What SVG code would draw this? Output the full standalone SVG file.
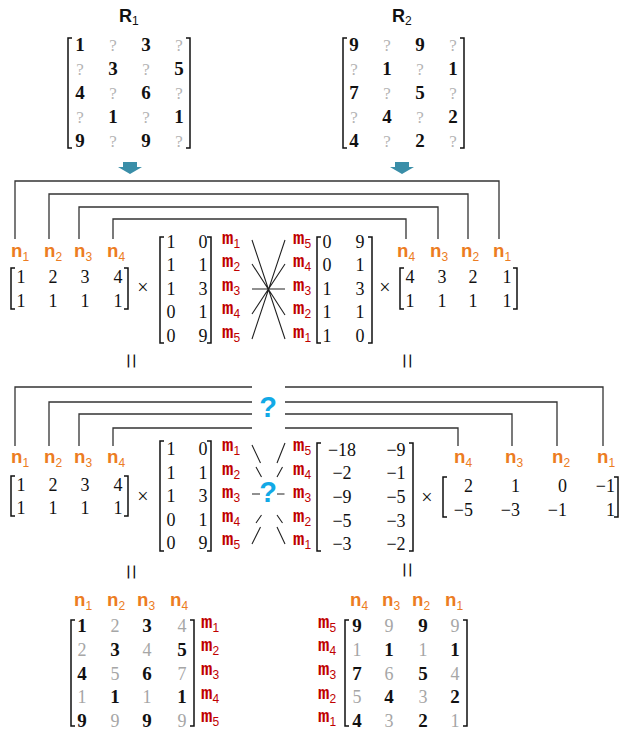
<svg xmlns="http://www.w3.org/2000/svg" width="621" height="730" viewBox="0 0 621 730">
  <style>
    .lbl { font-family: "Liberation Sans", Arial, sans-serif; font-weight: bold; font-size: 18px; fill: #111; }
    .nl { font-family: "Liberation Mono", "DejaVu Sans Mono", monospace; font-weight: bold; font-size: 19px; fill: #ec7c22; }
    .ml { font-family: "Liberation Mono", "DejaVu Sans Mono", monospace; font-weight: bold; font-size: 19px; fill: #c00000; }
    .sub { font-family: "Liberation Sans", Arial, sans-serif; font-weight: normal; font-size: 12px; }
    .mx { font-family: "Liberation Serif", "DejaVu Serif", serif; font-size: 18px; fill: #111; text-anchor: middle; }
    .mxr { font-family: "Liberation Serif", "DejaVu Serif", serif; font-size: 18px; fill: #111; text-anchor: end; }
    .bd { font-family: "Liberation Serif", "DejaVu Serif", serif; font-weight: bold; font-size: 19px; fill: #111; text-anchor: middle; }
    .gr { font-family: "Liberation Serif", "DejaVu Serif", serif; font-size: 18px; fill: #a6a6a6; text-anchor: middle; }
    .q { font-family: "Liberation Serif", "DejaVu Serif", serif; font-size: 17px; fill: #b4b4b4; text-anchor: middle; }
    .op { font-family: "Liberation Serif", "DejaVu Serif", serif; font-size: 20px; fill: #111; text-anchor: middle; }
    .eq { font-family: "Liberation Serif", "DejaVu Serif", serif; font-size: 28px; fill: #111; text-anchor: middle; }
    .bq { font-family: "Liberation Sans", Arial, sans-serif; font-weight: bold; font-size: 29px; fill: #12a9e6; text-anchor: middle; }
    .br { fill: none; stroke: #111; stroke-width: 1.5; }
    .wire { fill: none; stroke: #333; stroke-width: 1.3; }
    .cross { fill: none; stroke: #222; stroke-width: 1.1; }
    .arrow { fill: #3a8ea8; }
  </style>

  <!-- ===== Top: R1 ===== -->
  <g id="R1">
    <text class="lbl" x="119" y="22">R<tspan class="sub" dy="3">1</tspan></text>
    <path class="br" d="M72,38 H68 V148 H72 M186,38 H190 V148 H186"/>
    <text class="bd" x="80" y="51">1</text><text class="q" x="113" y="51">?</text><text class="bd" x="146" y="51">3</text><text class="q" x="179" y="51">?</text>
    <text class="q" x="80" y="75">?</text><text class="bd" x="113" y="75">3</text><text class="q" x="146" y="75">?</text><text class="bd" x="179" y="75">5</text>
    <text class="bd" x="80" y="99">4</text><text class="q" x="113" y="99">?</text><text class="bd" x="146" y="99">6</text><text class="q" x="179" y="99">?</text>
    <text class="q" x="80" y="123">?</text><text class="bd" x="113" y="123">1</text><text class="q" x="146" y="123">?</text><text class="bd" x="179" y="123">1</text>
    <text class="bd" x="80" y="147">9</text><text class="q" x="113" y="147">?</text><text class="bd" x="146" y="147">9</text><text class="q" x="179" y="147">?</text>
    <path class="arrow" d="M123,162 H137 V167 H142 L130,174 L118,167 H123 Z"/>
  </g>

  <!-- ===== Top: R2 ===== -->
  <g id="R2">
    <text class="lbl" x="392" y="22">R<tspan class="sub" dy="3">2</tspan></text>
    <path class="br" d="M347,38 H343 V148 H347 M460,38 H464 V148 H460"/>
    <text class="bd" x="354" y="51">9</text><text class="q" x="387" y="51">?</text><text class="bd" x="420" y="51">9</text><text class="q" x="453" y="51">?</text>
    <text class="q" x="354" y="75">?</text><text class="bd" x="387" y="75">1</text><text class="q" x="420" y="75">?</text><text class="bd" x="453" y="75">1</text>
    <text class="bd" x="354" y="99">7</text><text class="q" x="387" y="99">?</text><text class="bd" x="420" y="99">5</text><text class="q" x="453" y="99">?</text>
    <text class="q" x="354" y="123">?</text><text class="bd" x="387" y="123">4</text><text class="q" x="420" y="123">?</text><text class="bd" x="453" y="123">2</text>
    <text class="bd" x="354" y="147">4</text><text class="q" x="387" y="147">?</text><text class="bd" x="420" y="147">2</text><text class="q" x="453" y="147">?</text>
    <path class="arrow" d="M395,162 H409 V167 H414 L402,174 L390,167 H395 Z"/>
  </g>

  <!-- ===== Connectors ===== -->
  <g id="connectors">
    <!-- upper factorisation: nested brackets pairing n columns -->
    <path class="wire" d="M15,239 V181 H499 V239"/>
    <path class="wire" d="M49,239 V194 H468 V239"/>
    <path class="wire" d="M79,239 V207 H438 V239"/>
    <path class="wire" d="M113,239 V219 H406 V239"/>
    <!-- upper row permutation -->
    <path class="cross" d="M252,240 L285,339 M252,264 L285,315 M252,289 H285 M252,314 L285,264 M252,339 L285,240"/>
    <!-- lower factorisation: brackets broken by the unknown -->
    <path class="wire" d="M15,446 V387 H252 M285,387 H603 V446"/>
    <path class="wire" d="M49,446 V402 H252 M285,402 H557 V446"/>
    <path class="wire" d="M79,446 V414 H252 M285,414 H512 V446"/>
    <path class="wire" d="M113,446 V428 H252 M285,428 H458 V446"/>
    <!-- lower row permutation, broken -->
    <path class="cross" d="M252,445 L260.5,463 M256,467 L261.5,477 M252,494 H260 M256,523 L261.5,515 M252,544 L260.5,527 M285,443 L277,463 M282.5,467 L277,477 M277,494 H284.5 M282.5,523 L277,515 M285,544 L277,527"/>
  </g>

  <!-- ===== Upper equation ===== -->
  <g id="nTopLeft">
    <text class="nl" x="11" y="257">n<tspan class="sub" dy="4">1</tspan></text>
    <text class="nl" x="44" y="257">n<tspan class="sub" dy="4">2</tspan></text>
    <text class="nl" x="74" y="257">n<tspan class="sub" dy="4">3</tspan></text>
    <text class="nl" x="107" y="257">n<tspan class="sub" dy="4">4</tspan></text>
  </g>
  <g id="A1">
    <path class="br" d="M15,268 H11 V309 H15 M124,268 H128 V309 H124"/>
    <text class="mx" x="21" y="283">1</text><text class="mx" x="53" y="283">2</text><text class="mx" x="85" y="283">3</text><text class="mx" x="118" y="283">4</text>
    <text class="mx" x="21" y="307">1</text><text class="mx" x="53" y="307">1</text><text class="mx" x="85" y="307">1</text><text class="mx" x="118" y="307">1</text>
  </g>
  <text class="op" x="143" y="294">×</text>
  <g id="B1">
    <path class="br" d="M164,237 H160 V343 H164 M207,237 H211 V343 H207"/>
    <text class="mx" x="171" y="248">1</text><text class="mx" x="203" y="248">0</text>
    <text class="mx" x="171" y="271">1</text><text class="mx" x="203" y="271">1</text>
    <text class="mx" x="171" y="295">1</text><text class="mx" x="203" y="295">3</text>
    <text class="mx" x="171" y="318">0</text><text class="mx" x="203" y="318">1</text>
    <text class="mx" x="171" y="342">0</text><text class="mx" x="203" y="342">9</text>
  </g>
  <g id="mTopLeft">
    <text class="ml" x="222" y="244">m<tspan class="sub" dy="4">1</tspan></text>
    <text class="ml" x="222" y="267">m<tspan class="sub" dy="4">2</tspan></text>
    <text class="ml" x="222" y="291">m<tspan class="sub" dy="4">3</tspan></text>
    <text class="ml" x="222" y="314">m<tspan class="sub" dy="4">4</tspan></text>
    <text class="ml" x="222" y="338">m<tspan class="sub" dy="4">5</tspan></text>
  </g>
  <g id="mTopRight">
    <text class="ml" x="293" y="244">m<tspan class="sub" dy="4">5</tspan></text>
    <text class="ml" x="293" y="267">m<tspan class="sub" dy="4">4</tspan></text>
    <text class="ml" x="293" y="291">m<tspan class="sub" dy="4">3</tspan></text>
    <text class="ml" x="293" y="314">m<tspan class="sub" dy="4">2</tspan></text>
    <text class="ml" x="293" y="338">m<tspan class="sub" dy="4">1</tspan></text>
  </g>
  <g id="B2">
    <path class="br" d="M321,237 H317 V343 H321 M368,237 H372 V343 H368"/>
    <text class="mx" x="327" y="248">0</text><text class="mx" x="360" y="248">9</text>
    <text class="mx" x="327" y="271">0</text><text class="mx" x="360" y="271">1</text>
    <text class="mx" x="327" y="295">1</text><text class="mx" x="360" y="295">3</text>
    <text class="mx" x="327" y="318">1</text><text class="mx" x="360" y="318">1</text>
    <text class="mx" x="327" y="342">1</text><text class="mx" x="360" y="342">0</text>
  </g>
  <text class="op" x="385" y="294">×</text>
  <g id="A2">
    <path class="br" d="M404,268 H400 V309 H404 M513,268 H517 V309 H513"/>
    <text class="mx" x="410" y="283">4</text><text class="mx" x="442" y="283">3</text><text class="mx" x="473" y="283">2</text><text class="mx" x="507" y="283">1</text>
    <text class="mx" x="410" y="307">1</text><text class="mx" x="442" y="307">1</text><text class="mx" x="473" y="307">1</text><text class="mx" x="507" y="307">1</text>
  </g>
  <g id="nTopRight">
    <text class="nl" x="397" y="257">n<tspan class="sub" dy="4">4</tspan></text>
    <text class="nl" x="430" y="257">n<tspan class="sub" dy="4">3</tspan></text>
    <text class="nl" x="461" y="257">n<tspan class="sub" dy="4">2</tspan></text>
    <text class="nl" x="493" y="257">n<tspan class="sub" dy="4">1</tspan></text>
  </g>
  <text class="eq" transform="translate(130,361) rotate(90)" x="0" y="8">=</text>
  <text class="eq" transform="translate(406,361) rotate(90)" x="0" y="8">=</text>

  <!-- ===== Lower equation ===== -->
  <text class="bq" x="268" y="417">?</text>
  <text class="bq" x="268" y="502">?</text>
  <g id="nMidLeft">
    <text class="nl" x="11" y="463">n<tspan class="sub" dy="4">1</tspan></text>
    <text class="nl" x="44" y="463">n<tspan class="sub" dy="4">2</tspan></text>
    <text class="nl" x="74" y="463">n<tspan class="sub" dy="4">3</tspan></text>
    <text class="nl" x="107" y="463">n<tspan class="sub" dy="4">4</tspan></text>
  </g>
  <g id="A3">
    <path class="br" d="M15,476 H11 V516 H15 M124,476 H128 V516 H124"/>
    <text class="mx" x="21" y="491">1</text><text class="mx" x="53" y="491">2</text><text class="mx" x="85" y="491">3</text><text class="mx" x="118" y="491">4</text>
    <text class="mx" x="21" y="514">1</text><text class="mx" x="53" y="514">1</text><text class="mx" x="85" y="514">1</text><text class="mx" x="118" y="514">1</text>
  </g>
  <text class="op" x="143" y="503">×</text>
  <g id="B3">
    <path class="br" d="M164,441 H160 V551 H164 M207,441 H211 V551 H207"/>
    <text class="mx" x="171" y="455">1</text><text class="mx" x="203" y="455">0</text>
    <text class="mx" x="171" y="479">1</text><text class="mx" x="203" y="479">1</text>
    <text class="mx" x="171" y="502">1</text><text class="mx" x="203" y="502">3</text>
    <text class="mx" x="171" y="526">0</text><text class="mx" x="203" y="526">1</text>
    <text class="mx" x="171" y="549">0</text><text class="mx" x="203" y="549">9</text>
  </g>
  <g id="mMidLeft">
    <text class="ml" x="222" y="451">m<tspan class="sub" dy="4">1</tspan></text>
    <text class="ml" x="222" y="475">m<tspan class="sub" dy="4">2</tspan></text>
    <text class="ml" x="222" y="498">m<tspan class="sub" dy="4">3</tspan></text>
    <text class="ml" x="222" y="522">m<tspan class="sub" dy="4">4</tspan></text>
    <text class="ml" x="222" y="545">m<tspan class="sub" dy="4">5</tspan></text>
  </g>
  <g id="mMidRight">
    <text class="ml" x="293" y="451">m<tspan class="sub" dy="4">5</tspan></text>
    <text class="ml" x="293" y="475">m<tspan class="sub" dy="4">4</tspan></text>
    <text class="ml" x="293" y="498">m<tspan class="sub" dy="4">3</tspan></text>
    <text class="ml" x="293" y="522">m<tspan class="sub" dy="4">2</tspan></text>
    <text class="ml" x="293" y="545">m<tspan class="sub" dy="4">1</tspan></text>
  </g>
  <g id="B4">
    <path class="br" d="M321,443 H317 V551 H321 M409,443 H413 V551 H409"/>
    <text class="mx" x="342" y="456">−18</text><text class="mx" x="396" y="456">−9</text>
    <text class="mx" x="342" y="479">−2</text><text class="mx" x="396" y="479">−1</text>
    <text class="mx" x="342" y="503">−9</text><text class="mx" x="396" y="503">−5</text>
    <text class="mx" x="342" y="527">−5</text><text class="mx" x="396" y="527">−3</text>
    <text class="mx" x="342" y="550">−3</text><text class="mx" x="396" y="550">−2</text>
  </g>
  <text class="op" x="427" y="504">×</text>
  <g id="A4">
    <path class="br" d="M447,477 H443 V517 H447 M614,477 H618 V517 H614"/>
    <text class="mxr" x="473" y="492">2</text><text class="mxr" x="520" y="492">1</text><text class="mxr" x="567" y="492">0</text><text class="mxr" x="615" y="492">−1</text>
    <text class="mxr" x="473" y="516">−5</text><text class="mxr" x="520" y="516">−3</text><text class="mxr" x="567" y="516">−1</text><text class="mxr" x="615" y="516">1</text>
  </g>
  <g id="nMidRight">
    <text class="nl" x="454" y="463">n<tspan class="sub" dy="4">4</tspan></text>
    <text class="nl" x="505" y="463">n<tspan class="sub" dy="4">3</tspan></text>
    <text class="nl" x="552" y="463">n<tspan class="sub" dy="4">2</tspan></text>
    <text class="nl" x="597" y="463">n<tspan class="sub" dy="4">1</tspan></text>
  </g>
  <text class="eq" transform="translate(130,572) rotate(90)" x="0" y="8">=</text>
  <text class="eq" transform="translate(406,570) rotate(90)" x="0" y="8">=</text>

  <!-- ===== Bottom: completed matrices ===== -->
  <g id="C1">
    <text class="nl" x="74" y="606">n<tspan class="sub" dy="4">1</tspan></text>
    <text class="nl" x="107" y="606">n<tspan class="sub" dy="4">2</tspan></text>
    <text class="nl" x="137" y="606">n<tspan class="sub" dy="4">3</tspan></text>
    <text class="nl" x="170" y="606">n<tspan class="sub" dy="4">4</tspan></text>
    <path class="br" d="M75,620 H71 V726 H75 M190,620 H194 V726 H190"/>
    <text class="bd" x="82" y="632">1</text><text class="gr" x="115" y="632">2</text><text class="bd" x="147" y="632">3</text><text class="gr" x="182" y="632">4</text>
    <text class="gr" x="82" y="656">2</text><text class="bd" x="115" y="656">3</text><text class="gr" x="147" y="656">4</text><text class="bd" x="182" y="656">5</text>
    <text class="bd" x="82" y="680">4</text><text class="gr" x="115" y="680">5</text><text class="bd" x="147" y="680">6</text><text class="gr" x="182" y="680">7</text>
    <text class="gr" x="82" y="703">1</text><text class="bd" x="115" y="703">1</text><text class="gr" x="147" y="703">1</text><text class="bd" x="182" y="703">1</text>
    <text class="bd" x="82" y="727">9</text><text class="gr" x="115" y="727">9</text><text class="bd" x="147" y="727">9</text><text class="gr" x="182" y="727">9</text>
    <text class="ml" x="201" y="628">m<tspan class="sub" dy="4">1</tspan></text>
    <text class="ml" x="201" y="651">m<tspan class="sub" dy="4">2</tspan></text>
    <text class="ml" x="201" y="675">m<tspan class="sub" dy="4">3</tspan></text>
    <text class="ml" x="201" y="699">m<tspan class="sub" dy="4">4</tspan></text>
    <text class="ml" x="201" y="722">m<tspan class="sub" dy="4">5</tspan></text>
  </g>
  <g id="C2">
    <text class="nl" x="350" y="606">n<tspan class="sub" dy="4">4</tspan></text>
    <text class="nl" x="382" y="606">n<tspan class="sub" dy="4">3</tspan></text>
    <text class="nl" x="412" y="606">n<tspan class="sub" dy="4">2</tspan></text>
    <text class="nl" x="445" y="606">n<tspan class="sub" dy="4">1</tspan></text>
    <path class="br" d="M349,620 H345 V726 H349 M463,620 H467 V726 H463"/>
    <text class="bd" x="357" y="632">9</text><text class="gr" x="389" y="632">9</text><text class="bd" x="423" y="632">9</text><text class="gr" x="455" y="632">9</text>
    <text class="gr" x="357" y="656">1</text><text class="bd" x="389" y="656">1</text><text class="gr" x="423" y="656">1</text><text class="bd" x="455" y="656">1</text>
    <text class="bd" x="357" y="680">7</text><text class="gr" x="389" y="680">6</text><text class="bd" x="423" y="680">5</text><text class="gr" x="455" y="680">4</text>
    <text class="gr" x="357" y="703">5</text><text class="bd" x="389" y="703">4</text><text class="gr" x="423" y="703">3</text><text class="bd" x="455" y="703">2</text>
    <text class="bd" x="357" y="727">4</text><text class="gr" x="389" y="727">3</text><text class="bd" x="423" y="727">2</text><text class="gr" x="455" y="727">1</text>
    <text class="ml" x="318" y="628">m<tspan class="sub" dy="4">5</tspan></text>
    <text class="ml" x="318" y="651">m<tspan class="sub" dy="4">4</tspan></text>
    <text class="ml" x="318" y="675">m<tspan class="sub" dy="4">3</tspan></text>
    <text class="ml" x="318" y="699">m<tspan class="sub" dy="4">2</tspan></text>
    <text class="ml" x="318" y="722">m<tspan class="sub" dy="4">1</tspan></text>
  </g>
</svg>
